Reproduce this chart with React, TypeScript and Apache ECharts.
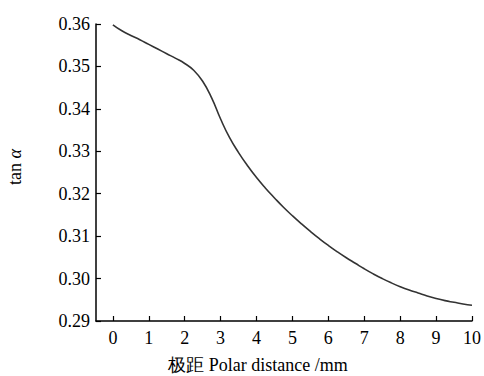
import React, { useEffect, useRef } from "react";
import * as echarts from "echarts";

const xValues = [0, 0.25, 0.5, 0.75, 1, 1.25, 1.5, 1.75, 2, 2.25, 2.5, 2.75, 3, 3.25, 3.5, 3.75, 4, 4.25, 4.5, 4.75, 5, 5.25, 5.5, 5.75, 6, 6.25, 6.5, 6.75, 7, 7.25, 7.5, 7.75, 8, 8.25, 8.5, 8.75, 9, 9.25, 9.5, 9.75, 10];
const tanValues = [0.3598, 0.3584, 0.3573, 0.3563, 0.3552, 0.3541, 0.353, 0.3519, 0.3507, 0.3491, 0.3465, 0.3426, 0.3376, 0.3332, 0.3297, 0.3266, 0.3238, 0.3213, 0.319, 0.3168, 0.3148, 0.3129, 0.3111, 0.3094, 0.3078, 0.3063, 0.3049, 0.3036, 0.3023, 0.3011, 0.3, 0.299, 0.2981, 0.2973, 0.2966, 0.2959, 0.2953, 0.2948, 0.2944, 0.294, 0.2937];
const xTicks = [0, 1, 2, 3, 4, 5, 6, 7, 8, 9, 10];
const xTitle = "极距 Polar distance /mm";

const FONT = "Liberation Serif";

export default function App() {
  const ref = useRef<HTMLDivElement>(null);
  useEffect(() => {
    if (!ref.current) return;
    const chart = echarts.init(ref.current, undefined, { renderer: "svg" });
    chart.setOption({
      animation: false,
      backgroundColor: "#ffffff",
      textStyle: { fontFamily: FONT },
      grid: { left: 96, right: 12, top: 24, bottom: 55, containLabel: false },
      xAxis: {
        type: "value",
        min: -0.47,
        max: 10,
        axisLine: { show: true, onZero: false, lineStyle: { color: "#000", width: 1.5 } },
        axisTick: { show: true, inside: true, length: 5, customValues: xTicks, lineStyle: { color: "#000", width: 1.2 } },
        axisLabel: { customValues: xTicks, color: "#000", fontSize: 18, fontFamily: FONT, margin: 8 },
        splitLine: { show: false },
      },
      yAxis: {
        type: "value",
        min: 0.29,
        max: 0.36,
        interval: 0.01,
        axisLine: { show: true, onZero: false, lineStyle: { color: "#000", width: 1.5 } },
        axisTick: { show: true, inside: true, length: 5, lineStyle: { color: "#000", width: 1.2 } },
        axisLabel: { color: "#000", fontSize: 18, fontFamily: FONT, margin: 6, formatter: (v: number) => v.toFixed(2) },
        splitLine: { show: false },
      },
      series: [
        {
          type: "line",
          data: xValues.map((x, i) => [x, tanValues[i]]),
          smooth: 0.5,
          showSymbol: false,
          lineStyle: { color: "#333", width: 1.6 },
        },
      ],
      graphic: [
        {
          type: "text",
          x: 15,
          y: 167,
          rotation: Math.PI / 2,
          style: {
            text: "tan {i|α}",
            fontSize: 18,
            fontFamily: FONT,
            fill: "#000",
            align: "center",
            verticalAlign: "middle",
            rich: { i: { fontStyle: "italic", fontSize: 18, fontFamily: FONT, fill: "#000" } },
          },
        },
        {
          type: "text",
          x: 258,
          y: 365,
          style: {
            text: xTitle,
            fontSize: 18,
            fontFamily: FONT,
            fill: "#000",
            align: "center",
            verticalAlign: "middle",
          },
        },
      ],
    });
    return () => chart.dispose();
  }, []);
  return <div ref={ref} style={{ position: "absolute", left: 0, top: 0, width: 484, height: 376 }} />;
}
